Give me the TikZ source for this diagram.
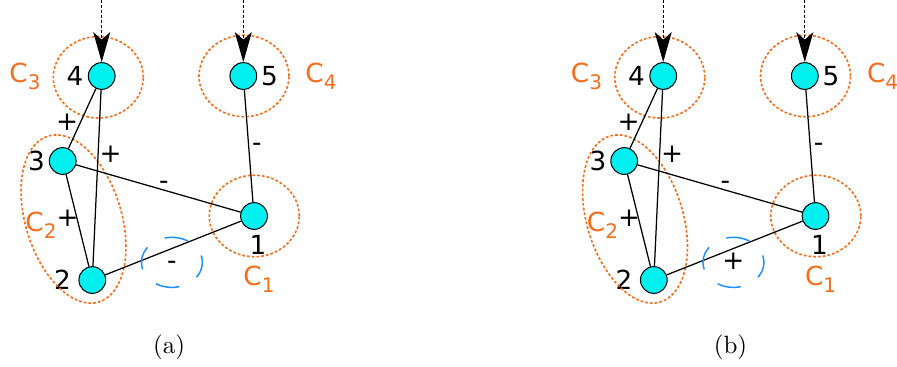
\documentclass[tikz,border=0pt]{standalone}
\usepackage{fontspec}
\newfontfamily\lblfont{DejaVu Sans}
\usetikzlibrary{arrows.meta,positioning,shapes.geometric}
\definecolor{grporange}{RGB}{244,110,28}
\definecolor{ringblue}{RGB}{30,144,255}
\definecolor{vtxcyan}{RGB}{0,240,240}

\begin{document}
\begin{tikzpicture}[
  x=0.4pt, y=-0.4pt,
  font=\lblfont\fontsize{10.5}{12}\selectfont,
  vtx/.style={circle, draw, fill=vtxcyan, minimum size=10.7pt, inner sep=0pt},
  num/.style={inner sep=0pt},
  grp/.style={draw=grporange, ellipse, line width=0.65pt, dash pattern=on 1.1pt off 0.8pt,
    minimum width=36pt, minimum height=32.6pt, inner sep=0pt},
  clab/.style={text=grporange, inner sep=0pt},
  sgn/.style={inner sep=0pt, text height=6pt, text depth=0pt},
  ring/.style={sgn, ellipse, draw=ringblue, line width=0.6pt, dash pattern=on 9.5pt off 8pt,
    dash phase=6.7pt, minimum width=24.4pt, minimum height=20pt},
  link/.style={line width=0.5pt},
  inarr/.style={-{Stealth[length=12pt, width=6.8pt, inset=3pt]}, line width=0.45pt,
    dash pattern=on 1.3pt off 0.7pt},
  capt/.style={font=\rmfamily\normalsize}
]
\useasboundingbox (0,0) rectangle (897,366);

% Panel (a)
\node[vtx] (a4) at (101.7,76) {};
\node[vtx] (a5) at (243.3,76) {};
\node[vtx] (a3) at (62.7,161) {};
\node[vtx] (a1) at (254,216) {};
\node[vtx] (a2) at (92.3,280) {};

\node[num, left=1.6pt of a4] (na4) {4};
\node[num, right=1.4pt of a5] (na5) {5};
\node[num, left=1.4pt of a3] (na3) {3};
\node[num, left=2.8pt of a2] (na2) {2};
\node[num, below=2pt of a1, xshift=1.6pt] (na1) {1};

\node[grp] (ga3) at (98.3,77.3) {};
\node[grp] (ga4) at (244,76) {};
\node[grp] (ga1) at (254.3,216) {};
\node[grp, minimum width=38.4pt, minimum height=69.4pt, rotate=17] (ga2) at (73.5,219) {};

\node[clab] (la3) at (25,76.5) {C\raisebox{-2.8pt}{\footnotesize 3}};
\node[clab] (la4) at (321,76) {C\raisebox{-2.8pt}{\footnotesize 4}};
\node[clab] (la2) at (41,225) {C\raisebox{-2.8pt}{\footnotesize 2}};
\node[clab] (la1) at (259,279) {C\raisebox{-2.8pt}{\footnotesize 1}};

\draw[link] (a4) -- node[sgn, pos=0.66, xshift=-4.3pt, yshift=2pt] {+} (a3);
\draw[link] (a4) -- node[sgn, pos=0.37, xshift=5pt] {+} (a2);
\draw[link] (a5) -- node[sgn, pos=0.48, xshift=3.4pt] {-} (a1);
\draw[link] (a3) -- node[sgn, pos=0.52, xshift=0.9pt, yshift=3pt] {-} (a1);
\draw[link] (a3) -- node[sgn, pos=0.47, xshift=-3.7pt, yshift=-0.5pt] {+} (a2);
\draw[link] (a2) -- node[ring, pos=0.456, xshift=1.9pt, yshift=-4.8pt] {-} (a1);

\coordinate (a4top) at (101.7,0);
\coordinate (a5top) at (243.3,0);
\draw[inarr] (a4top) -- (a4);
\draw[inarr] (a5top) -- (a5);

\node[capt] (capa) at (169,347) {(a)};

% Panel (b)
\begin{scope}[xshift=224.6pt]
\node[vtx] (b4) at (101.7,76) {};
\node[vtx] (b5) at (243.3,76) {};
\node[vtx] (b3) at (62.7,161) {};
\node[vtx] (b1) at (254,216) {};
\node[vtx] (b2) at (92.3,280) {};

\node[num, left=1.6pt of b4] (nb4) {4};
\node[num, right=1.4pt of b5] (nb5) {5};
\node[num, left=1.4pt of b3] (nb3) {3};
\node[num, left=2.8pt of b2] (nb2) {2};
\node[num, below=2pt of b1, xshift=1.6pt] (nb1) {1};

\node[grp] (gb3) at (98.3,77.3) {};
\node[grp] (gb4) at (244,76) {};
\node[grp] (gb1) at (254.3,216) {};
\node[grp, minimum width=38.4pt, minimum height=69.4pt, rotate=17] (gb2) at (73.5,219) {};

\node[clab] (lb3) at (25,76.5) {C\raisebox{-2.8pt}{\footnotesize 3}};
\node[clab] (lb4) at (321,76) {C\raisebox{-2.8pt}{\footnotesize 4}};
\node[clab] (lb2) at (41,225) {C\raisebox{-2.8pt}{\footnotesize 2}};
\node[clab] (lb1) at (259,279) {C\raisebox{-2.8pt}{\footnotesize 1}};

\draw[link] (b4) -- node[sgn, pos=0.66, xshift=-4.3pt, yshift=2pt] {+} (b3);
\draw[link] (b4) -- node[sgn, pos=0.37, xshift=5pt] {+} (b2);
\draw[link] (b5) -- node[sgn, pos=0.48, xshift=3.4pt] {-} (b1);
\draw[link] (b3) -- node[sgn, pos=0.52, xshift=0.9pt, yshift=3pt] {-} (b1);
\draw[link] (b3) -- node[sgn, pos=0.47, xshift=-3.7pt, yshift=-0.5pt] {+} (b2);
\draw[link] (b2) -- node[ring, pos=0.456, xshift=1.9pt, yshift=-4.8pt] {+} (b1);

\coordinate (b4top) at (101.7,0);
\coordinate (b5top) at (243.3,0);
\draw[inarr] (b4top) -- (b4);
\draw[inarr] (b5top) -- (b5);

\node[capt] (capb) at (169,347) {(b)};
\end{scope}

\end{tikzpicture}
\end{document}
